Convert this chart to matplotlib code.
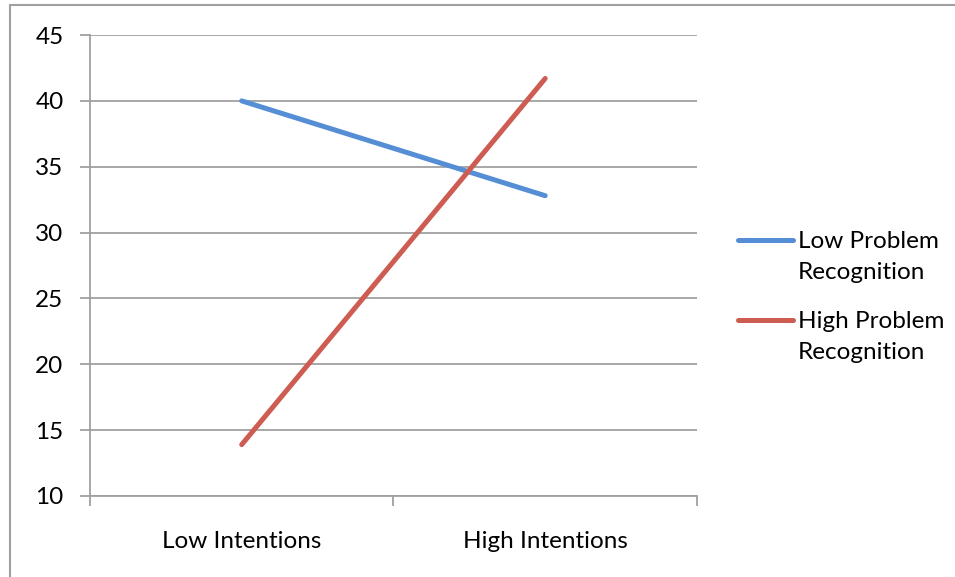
import matplotlib.pyplot as plt

# interaction plot: intentions x problem recognition

categories = ['Low Intentions', 'High Intentions']
low_recognition = [40.0, 32.8]
high_recognition = [13.9, 41.7]
series_labels = ['Low Problem\nRecognition', 'High Problem\nRecognition']
y_ticks = [10, 15, 20, 25, 30, 35, 40, 45]

plt.rcParams.update({'font.family': ['Lato', 'DejaVu Sans'], 'font.size': 17.5})

fig = plt.figure(figsize=(9.55, 5.77), dpi=100)
ax = fig.add_axes([0.0942, 0.1404, 0.6356, 0.7989])

grey = '#a0a0a0'
x = [0.5, 1.5]
ax.plot(x, low_recognition, '-', color='#558ed5', lw=3.6, solid_capstyle='round', label=series_labels[0])
ax.plot(x, high_recognition, '-', color='#cd5c52', lw=3.6, solid_capstyle='round', label=series_labels[1])

ax.set_xlim(0, 2)
ax.set_ylim(10, 45)
ax.set_yticks(y_ticks)
ax.yaxis.grid(True, color=grey, lw=1.3)
ax.set_axisbelow(True)

# category ticks on boundaries, labels centred
ax.set_xticks([0, 1, 2])
ax.set_xticklabels([])
ax.set_xticks(x, minor=True)
ax.set_xticklabels(categories, minor=True)
ax.tick_params(axis='x', which='minor', length=0, pad=25)
ax.tick_params(axis='x', which='major', length=7, color=grey, width=1.3)
ax.tick_params(axis='y', length=7, color=grey, width=1.3, pad=12)

for side in ['top', 'right']:
    ax.spines[side].set_visible(False)
for side in ['left', 'bottom']:
    ax.spines[side].set_color(grey)
    ax.spines[side].set_linewidth(1.3)

leg = fig.legend(loc='upper left', bbox_to_anchor=(738 / 955, 1 - 231 / 577), frameon=False,
                 handlelength=2.25, handletextpad=0.2, labelspacing=1.15,
                 borderpad=0, borderaxespad=0)
for t in leg.get_texts():
    t.set_linespacing(1.6)
# put the handle on the first line of each label
for col in leg._legend_handle_box.get_children():
    for item in col.get_children():
        item.align = 'top'

# outer chart border
border = plt.Rectangle((10 / 955, -0.05), 1.2, 1 - 5 / 577 + 0.05, transform=fig.transFigure,
                       fill=False, edgecolor=grey, lw=1.5)
fig.patches.append(border)

plt.savefig('out.png', dpi=100)
plt.close()
